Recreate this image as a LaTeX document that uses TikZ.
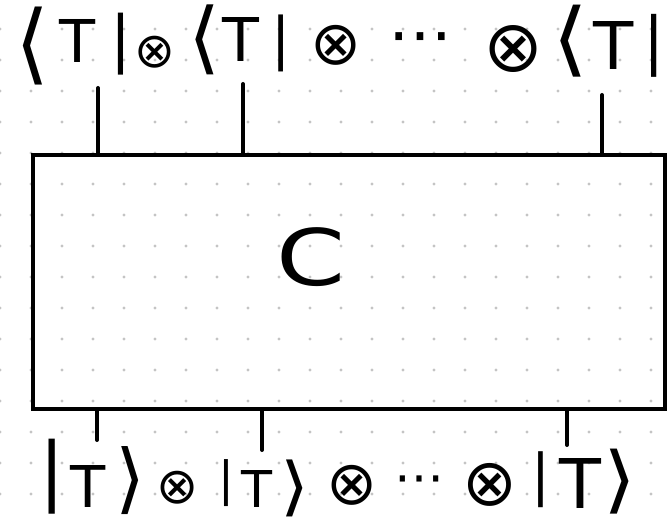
\documentclass[tikz,border=0pt]{standalone}
\usepackage{fontspec}
\setmainfont{DejaVu Sans}
\usepackage{graphicx}
\definecolor{dotc}{HTML}{C4C4C4}
\tikzset{
  glyph/.style={inner sep=0pt, outer sep=0pt, text=black},
  leg/.style={line width=4pt, line cap=round, black},
  frame/.style={draw, line width=4pt, inner sep=0pt, minimum width=632pt, minimum height=254pt},
}
\newcommand\gl[4]{\node[glyph] (#1) at (#2) {\resizebox*{!}{#3pt}{#4}};}
\newcommand\glwh[5]{\node[glyph] (#1) at (#2) {\resizebox*{#3pt}{#4pt}{#5}};}
\newcommand\glw[4]{\node[glyph] (#1) at (#2) {\resizebox*{#3pt}{!}{#4}};}
\begin{document}
\begin{tikzpicture}[x=1pt,y=-1pt]
\useasboundingbox (0,0) rectangle (667,521);
\fill[white] (0,0) rectangle (667,521);
% dotted grid
\foreach \i in {0,...,21}
  \foreach \j in {0,...,16}
    \fill[dotc] (31*\i,29+31*\j) circle (1.6pt);
% box
\node[frame] (box) at (349,282) {};
\glwh{C}{311,257}{69}{59}{C}
% top row
\glwh{ta1}{33,46}{34}{78}{⟨}
\gl{tT1}{78,41.5}{43}{T}
\gl{tb1}{121,44}{62}{|}
\gl{to1}{155,52}{32}{⊗}
\glwh{ta2}{205,40}{32}{70}{⟨}
\gl{tT2}{241,39}{44}{T}
\gl{tb2}{281,43}{57}{|}
\gl{to2}{336,45}{40}{⊗}
\glw{tdots}{420,45}{64}{⋯}
\gl{to3}{513,49}{47}{⊗}
\glwh{ta3}{571,41}{36}{72}{⟨}
\gl{tT3}{614,46}{48}{T}
\gl{tb3}{654,46}{63}{|}
% bottom row
\gl{bb1}{52,477}{75}{|}
\gl{bT1}{88,486}{42}{T}
\glwh{bk1}{131,481}{30}{68}{⟩}
\gl{bo1}{178,488}{33}{⊗}
\gl{bb2}{226,483}{47}{|}
\gl{bT2}{257,488.5}{37}{T}
\glwh{bk2}{295,488}{29}{57}{⟩}
\gl{bo2}{352,485}{40}{⊗}
\glw{bdots}{419,485}{50}{⋯}
\gl{bo3}{490,485}{43}{⊗}
\gl{bb3}{541,480}{56}{|}
\gl{bT3}{580,483}{50}{T}
\glwh{bk3}{620,482}{33}{65}{⟩}
% legs
\coordinate (tl1) at (98,88);
\coordinate (tl2) at (243,84);
\coordinate (tl3) at (602,95);
\coordinate (bl1) at (97,440);
\coordinate (bl2) at (262,450);
\coordinate (bl3) at (567,445);
\draw[leg] (tl1) -- (tl1 |- box.north);
\draw[leg] (tl2) -- (tl2 |- box.north);
\draw[leg] (tl3) -- (tl3 |- box.north);
\draw[leg] (box.south -| bl1) -- (bl1);
\draw[leg] (box.south -| bl2) -- (bl2);
\draw[leg] (box.south -| bl3) -- (bl3);
\end{tikzpicture}
\end{document}
